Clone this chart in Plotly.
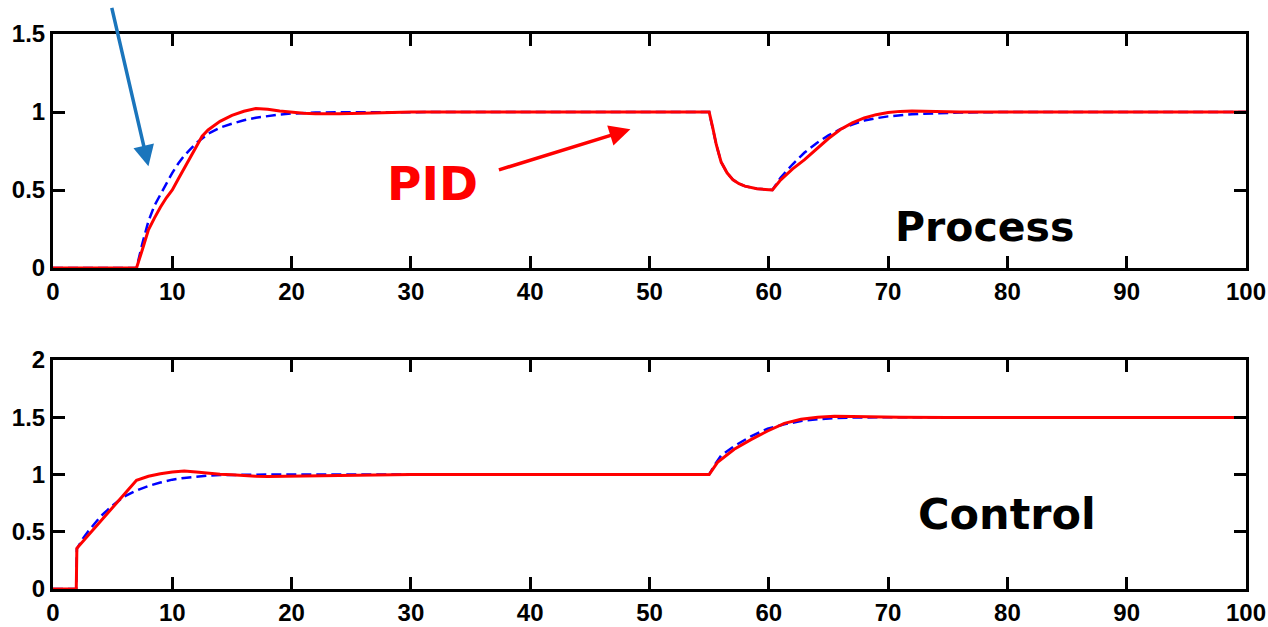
import plotly.graph_objects as go
from plotly.subplots import make_subplots

# ---- Process output (top panel) ----
proc_pid_t = [0, 7, 7.5, 8, 8.5, 9, 9.5, 10, 10.5, 11, 11.5, 12, 12.5, 13, 13.5, 14, 15, 16, 17, 18, 19,
              20, 21, 22, 24, 26, 28, 30, 40, 50, 55, 55.3, 55.6, 56, 56.5, 57, 57.5, 58, 59, 60, 60.3,
              61, 62, 63, 64, 65, 66, 67, 68, 69, 70, 71, 72, 74, 76, 80, 90, 100]
proc_pid_y = [0, 0, 0.12, 0.245, 0.32, 0.39, 0.45, 0.50, 0.57, 0.64, 0.71, 0.78, 0.845, 0.885, 0.915, 0.94,
              0.978, 1.005, 1.022, 1.018, 1.006, 0.997, 0.992, 0.989, 0.988, 0.992, 0.997, 1.0, 1.0, 1.0,
              1.0, 0.90, 0.79, 0.68, 0.61, 0.565, 0.54, 0.525, 0.508, 0.502, 0.50, 0.565, 0.635, 0.695,
              0.76, 0.83, 0.888, 0.93, 0.962, 0.983, 0.997, 1.004, 1.006, 1.003, 1.0, 1.0, 1.0, 1.0]

proc_ref_t = [0, 7, 7.5, 8, 8.5, 9, 9.5, 10, 10.5, 11, 11.5, 12, 13, 14, 15, 16, 17, 18, 19, 20, 22, 25,
              30, 40, 50, 55, 55.3, 55.6, 56, 56.5, 57, 57.5, 58, 59, 60, 60.3, 61, 62, 63, 64, 65, 66,
              67, 68, 69, 70, 72, 74, 76, 80, 90, 100]
proc_ref_y = [0, 0, 0.16, 0.30, 0.40, 0.47, 0.55, 0.61, 0.67, 0.72, 0.76, 0.80, 0.86, 0.90, 0.925, 0.947,
              0.963, 0.975, 0.984, 0.99, 0.996, 0.999, 1.0, 1.0, 1.0, 1.0, 0.90, 0.79, 0.68, 0.61, 0.565,
              0.54, 0.525, 0.508, 0.502, 0.50, 0.58, 0.665, 0.74, 0.80, 0.85, 0.89, 0.92, 0.945, 0.96,
              0.972, 0.986, 0.993, 0.997, 1.0, 1.0, 1.0]

# ---- Control signal (bottom panel) ----
ctrl_pid_t = [0, 1.95, 2, 3, 4, 5, 6, 7, 8, 9, 10, 11, 12, 13, 14, 15, 16, 17, 18, 19, 20, 22, 25, 28,
              30, 40, 50, 55, 55.7, 56.4, 57.1, 58.5, 59.9, 61.3, 62.7, 64.1, 65.5, 67, 68.5, 71, 75,
              80, 90, 100]
ctrl_pid_y = [0, 0, 0.355, 0.475, 0.595, 0.715, 0.835, 0.95, 0.985, 1.007, 1.022, 1.03, 1.022, 1.01,
              1.003, 0.998, 0.99, 0.985, 0.983, 0.984, 0.987, 0.992, 0.996, 0.999, 1.0, 1.0, 1.0, 1.0,
              1.106, 1.165, 1.22, 1.305, 1.38, 1.447, 1.483, 1.50, 1.508, 1.506, 1.503, 1.5, 1.498,
              1.498, 1.498, 1.498]

ctrl_ref_t = [0, 1.95, 2, 2.5, 3, 3.5, 4, 5, 6, 7, 8, 9, 10, 11, 12, 13, 14, 16, 18, 30, 40, 50, 55,
              55.5, 56, 57.1, 58.5, 59.9, 61.3, 62.7, 64.1, 65.5, 67, 70, 80, 90, 100]
ctrl_ref_y = [0, 0, 0.35, 0.44, 0.51, 0.575, 0.635, 0.73, 0.81, 0.86, 0.90, 0.93, 0.955, 0.97, 0.982,
              0.99, 0.995, 0.999, 1.0, 1.0, 1.0, 1.0, 1.0, 1.09, 1.165, 1.248, 1.333, 1.40, 1.438, 1.467,
              1.483, 1.492, 1.497, 1.5, 1.5, 1.5, 1.5]

x_ticks = [0, 10, 20, 30, 40, 50, 60, 70, 80, 90, 100]
x_labels = ["0", "10", "20", "30", "40", "50", "60", "70", "80", "90", "100"]
top_y_ticks = [0, 0.5, 1, 1.5]
top_y_labels = ["0", "0.5", "1", "1.5"]
bot_y_ticks = [0, 0.5, 1, 1.5, 2]
bot_y_labels = ["0", "0.5", "1", "1.5", "2"]

RED = "#ff0000"
BLUE = "#0000ff"
TICKFONT = dict(family="Liberation Sans, Arial, sans-serif", size=24, color="black", weight="bold")

W, H = 1268, 627
ML, MR, MT, MB = 53, 22, 34, 38
plot_h = H - MT - MB
BOT = H - MB  # pixel row of the lower panel's x axis

fig = make_subplots(rows=2, cols=1, vertical_spacing=0.1)
fig.update_layout(
    yaxis=dict(domain=[(BOT - 268) / plot_h, 1.0]),
    yaxis2=dict(domain=[0.0, (BOT - 360) / plot_h]),
)

fig.add_trace(go.Scatter(x=proc_ref_t, y=proc_ref_y, mode="lines",
                         line=dict(color=BLUE, width=2.5, dash="10px,5px"),
                         showlegend=False), row=1, col=1)
fig.add_trace(go.Scatter(x=proc_pid_t, y=proc_pid_y, mode="lines",
                         line=dict(color=RED, width=3), showlegend=False), row=1, col=1)
fig.add_trace(go.Scatter(x=ctrl_ref_t, y=ctrl_ref_y, mode="lines",
                         line=dict(color=BLUE, width=2.5, dash="10px,5px"),
                         showlegend=False), row=2, col=1)
fig.add_trace(go.Scatter(x=ctrl_pid_t, y=ctrl_pid_y, mode="lines",
                         line=dict(color=RED, width=3), showlegend=False), row=2, col=1)

axis_common = dict(showline=True, linecolor="black", linewidth=3, mirror="allticks",
                   ticks="inside", ticklen=12, tickwidth=2.5, tickcolor="black",
                   showgrid=False, zeroline=False, tickfont=TICKFONT, automargin=False)

for r in (1, 2):
    fig.update_xaxes(range=[0, 100], tickvals=x_ticks, ticktext=x_labels, ticklabelstandoff=0,
                     **axis_common, row=r, col=1)
fig.update_yaxes(range=[0, 1.5], tickvals=top_y_ticks, ticktext=top_y_labels, **axis_common, row=1, col=1)
fig.update_yaxes(range=[0, 2], tickvals=bot_y_ticks, ticktext=bot_y_labels, **axis_common, row=2, col=1)

label_font = "DejaVu Sans, Verdana, sans-serif"
fig.add_annotation(x=31.8, y=0.54, xref="x", yref="y", text="<b>PID</b>", showarrow=False,
                   font=dict(family=label_font, size=47, color=RED))
fig.add_annotation(x=78.1, y=0.26, xref="x", yref="y", text="<b>Process</b>", showarrow=False,
                   font=dict(family=label_font, size=41, color="black"))
fig.add_annotation(x=80.0, y=0.655, xref="x2", yref="y2", text="<b>Control</b>", showarrow=False,
                   font=dict(family=label_font, size=43, color="black"))

# arrows
fig.add_annotation(x=48.4, y=0.889, xref="x", yref="y", ax=-133, ay=41, text="",
                   showarrow=True, arrowhead=2, arrowsize=1.2, arrowwidth=3.5, arrowcolor=RED)
fig.add_annotation(x=8.0, y=0.652, xref="x", yref="y", ax=-37, ay=-160, text="",
                   showarrow=True, arrowhead=2, arrowsize=1.2, arrowwidth=3.5, arrowcolor="#1a75bc")

fig.update_layout(
    width=W, height=H,
    margin=dict(l=ML, r=MR, t=MT, b=MB),
    plot_bgcolor="white", paper_bgcolor="white",
)

fig.write_html(
    "out.html",
    config={"displayModeBar": False},
    post_script="document.body.style.margin='0';document.body.style.overflow='hidden';",
)
